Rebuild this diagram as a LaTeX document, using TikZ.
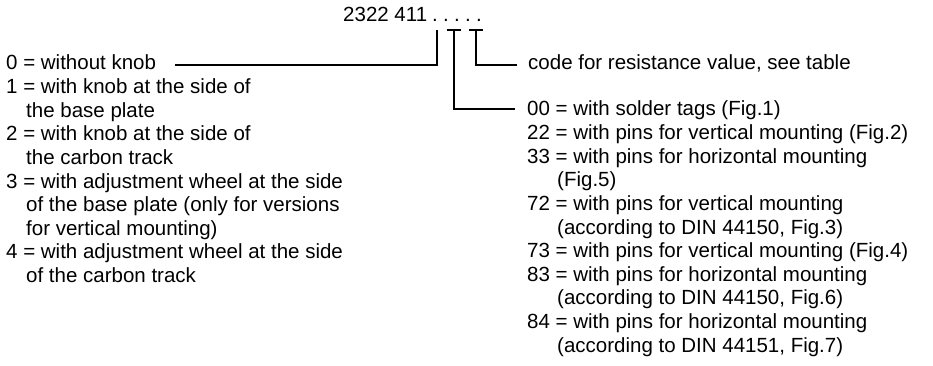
\documentclass[tikz,border=0pt]{standalone}
\usepackage{fontspec}
\setmainfont{Liberation Sans}
\begin{document}
\begin{tikzpicture}[x=1pt,y=-1pt,
  txt/.style={anchor=base west, inner sep=0pt, font=\fontsize{20.5}{24}\selectfont},
  dotnode/.style={anchor=base, inner sep=0pt, font=\fontsize{20.5}{24}\selectfont},
  conn/.style={line width=1.2pt}]
\useasboundingbox (0,0) rectangle (933,366);
% header
\node[txt] (code) at (343,22) {2322 411};
\foreach \i/\x in {1/435,2/446,3/457,4/468,5/479}
  \node[dotnode] (d\i) at (\x,22) {.};
% left column (baselines 70 + 23.6k)
\node[txt] (l0)  at (6,70)    {0 = without knob};
\node[txt] (l1)  at (6,93.6)  {1 = with knob at the side of};
\node[txt] (l1b) at (26,117.2) {the base plate};
\node[txt] (l2)  at (6,140.8) {2 = with knob at the side of};
\node[txt] (l2b) at (26,164.4) {the carbon track};
\node[txt] (l3)  at (6,188)   {3 = with adjustment wheel at the side};
\node[txt] (l3b) at (26,211.6) {of the base plate (only for versions};
\node[txt] (l3c) at (26,235.2) {for vertical mounting)};
\node[txt] (l4)  at (6,258.8) {4 = with adjustment wheel at the side};
\node[txt] (l4b) at (26,282.4) {of the carbon track};
% right column
\node[txt] (rc)   at (528,70)    {code for resistance value, see table};
\node[txt] (r00)  at (527,116)   {00 = with solder tags (Fig.1)};
\node[txt] (r22)  at (527,139.6) {22 = with pins for vertical mounting (Fig.2)};
\node[txt] (r33)  at (527,163.2) {33 = with pins for horizontal mounting};
\node[txt] (r33b) at (557,186.8) {(Fig.5)};
\node[txt] (r72)  at (527,210.4) {72 = with pins for vertical mounting};
\node[txt] (r72b) at (557,234)   {(according to DIN 44150, Fig.3)};
\node[txt] (r73)  at (527,257.6) {73 = with pins for vertical mounting (Fig.4)};
\node[txt] (r83)  at (527,281.2) {83 = with pins for horizontal mounting};
\node[txt] (r83b) at (557,304.8) {(according to DIN 44150, Fig.6)};
\node[txt] (r84)  at (527,328.4) {84 = with pins for horizontal mounting};
\node[txt] (r84b) at (557,352)   {(according to DIN 44151, Fig.7)};
% connectors
\coordinate (k0)  at (175,65);
\coordinate (kc)  at (517,65);
\coordinate (k00) at (515,109);
\draw[conn] (437,30) -- (437,65) -- (k0);
\draw[conn] (447,30) -- (461,30);
\draw[conn] (454,30) -- (454,109) -- (k00);
\draw[conn] (469,30) -- (483,30);
\draw[conn] (476,30) -- (476,65) -- (kc);
\end{tikzpicture}
\end{document}
